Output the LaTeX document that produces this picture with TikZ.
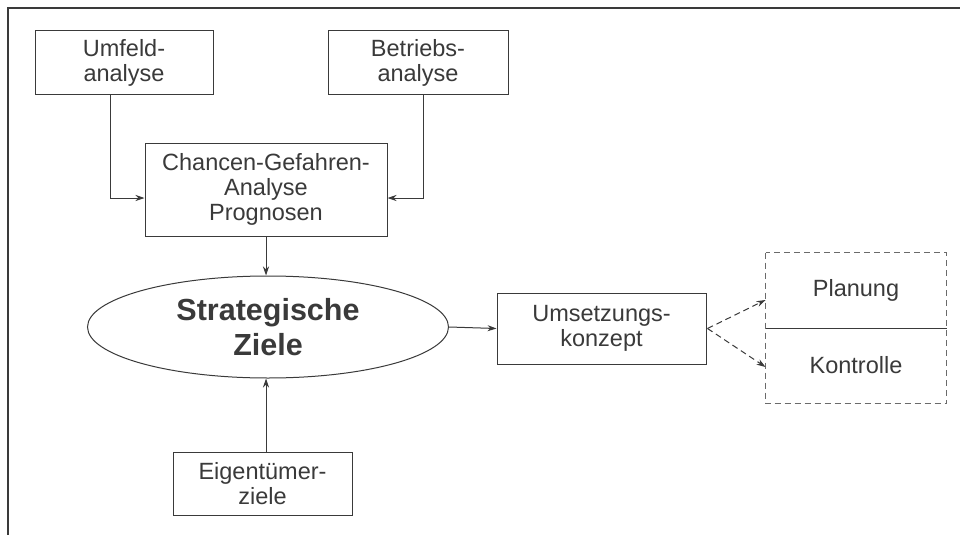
\documentclass[tikz,border=0pt]{standalone}
\usepackage{fontspec}
\setmainfont{Liberation Sans}
\usetikzlibrary{shapes.geometric,arrows.meta,calc}
\definecolor{ink}{HTML}{3A3A3A}
\definecolor{dashgray}{HTML}{6A6A6A}
\tikzset{
  box/.style={draw=ink, line width=1pt, text=ink, inner sep=0pt, align=center,
    font=\fontsize{23.5}{25}\selectfont},
  arr/.style={draw=ink, line width=1pt, -{Stealth[length=9pt,width=6pt]}},
  darr/.style={draw=ink, line width=1pt, dash pattern=on 6pt off 4pt, -{Stealth[length=9pt,width=6pt]}},
}
\begin{document}
\begin{tikzpicture}[x=1pt,y=-1pt]
\useasboundingbox (0,0) rectangle (960,535);
\fill[white] (0,0) rectangle (960,535);
% frame
\draw[ink, line width=1.3pt] (960,8) -- (8,8) -- (8,535);
% nodes
\node[box, minimum width=178pt, minimum height=63pt] (umf) at (124,62.5) {Umfeld-\\analyse};
\node[box, minimum width=180pt, minimum height=63pt] (betr) at (418,62.5) {Betriebs-\\analyse};
\node[box, minimum width=242pt, minimum height=93pt] (cga) at (266,189.5) {Chancen-Gefahren-\\Analyse\\Prognosen};
\node[box, ellipse, minimum width=361pt, minimum height=102pt,
  font=\fontsize{30.5}{35}\selectfont\bfseries] (sz) at (268,327) {Strategische\\Ziele};
\node[box, minimum width=179pt, minimum height=63pt] (eig) at (262.5,483.5) {Eigentümer-\\ziele};
\node[box, minimum width=209pt, minimum height=71pt] (ums) at (601.5,328.5) {Umsetzungs-\\konzept};
\node[box, draw=none, minimum width=180pt, minimum height=75pt] (plan) at (856,290.5) {Planung};
\node[box, draw=none, minimum width=180pt, minimum height=75pt] (kon) at (856,365.5) {Kontrolle};
% dashed group outline and divider
\draw[dashgray, line width=1pt, dash pattern=on 6pt off 4pt] (plan.north west) rectangle (kon.south east);
\draw[ink, line width=1pt] (plan.south west) -- (plan.south east);
% connectors
\draw[arr] ([xshift=-14pt]umf.south) |- ([yshift=-8.5pt]cga.west);
\draw[arr] ([xshift=5pt]betr.south) |- ([yshift=-8.5pt]cga.east);
\draw[arr] (cga.south) -- (sz.north -| cga.south);
\draw[arr] (eig.north -| cga.south) -- (sz.south -| cga.south);
\draw[arr] (sz.east) -- (ums.west);
\draw[darr] ([xshift=1pt]ums.east) -- ([yshift=-9.5pt]plan.west);
\draw[darr] ([xshift=1pt]ums.east) -- ([yshift=-1.5pt]kon.west);
\end{tikzpicture}
\end{document}
